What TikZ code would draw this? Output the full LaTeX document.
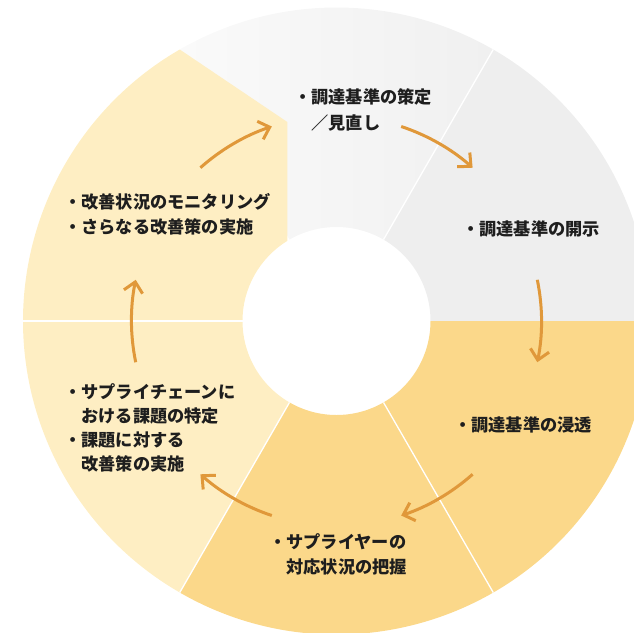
\documentclass[tikz,border=0pt]{standalone}
\usepackage{fontspec}
\setmainfont{Noto Sans CJK JP}
\usetikzlibrary{arrows.meta}
\definecolor{grayR}{HTML}{EEEEEE}
\definecolor{grayTL}{HTML}{FAFAFA}
\definecolor{grayTR}{HTML}{F0F0F0}
\definecolor{yel}{HTML}{FBD88A}
\definecolor{lyel}{HTML}{FEEEC3}
\definecolor{arr}{HTML}{E0983A}
\definecolor{txt}{HTML}{1E1E1E}
\tikzset{
  cyc/.style={draw=arr, line width=3pt, -{Straight Barb[length=10pt,width=19pt]}},
  sep/.style={draw=white, line width=1.3pt},
  lbl/.style={anchor=base west, inner sep=0pt, text=txt, font=\fontsize{17.2pt}{24pt}\selectfont\bfseries}
}
\begin{document}
\begin{tikzpicture}[x=1pt,y=1pt]
\useasboundingbox (0,0) rectangle (634,-632);
\clip (0,0) rectangle (634,-632);
\coordinate (c) at (336.5,-321);
% sectors
\fill[grayR] ([shift={(0:313.5pt)}]c) arc[start angle=0,end angle=60,radius=313.5pt]
  -- ([shift={(60:94pt)}]c) arc[start angle=60,end angle=0,radius=94pt] -- cycle;
\shade[left color=grayTL,right color=grayTR] ([shift={(60:313.5pt)}]c) arc[start angle=60,end angle=120,radius=313.5pt]
  -- ([shift={(120:94pt)}]c) arc[start angle=120,end angle=60,radius=94pt] -- cycle;
\fill[yel] ([shift={(-120:313.5pt)}]c) arc[start angle=-120,end angle=0,radius=313.5pt]
  -- ([shift={(0:94pt)}]c) arc[start angle=0,end angle=-120,radius=94pt] -- cycle;
\fill[lyel] ([shift={(180:313.5pt)}]c) arc[start angle=180,end angle=240,radius=313.5pt]
  -- ([shift={(240:94pt)}]c) arc[start angle=240,end angle=180,radius=94pt] -- cycle;
\coordinate (n1) at (287.3,-122);
\coordinate (n2) at ([shift={(121.55:94pt)}]c);
\fill[lyel] ([shift={(180:94pt)}]c) -- ([shift={(180:313.5pt)}]c)
  arc[start angle=180,end angle=120,radius=313.5pt] -- (n1) -- (n2)
  arc[start angle=121.55,end angle=180,radius=94pt] -- cycle;
% separators
\foreach \a in {60,-60,-120,180}
  \draw[sep] ([shift={(\a:94pt)}]c) -- ([shift={(\a:313.5pt)}]c);
% arrows
\foreach \b in {120,60,0,-60,-120,-180}
  \draw[cyc] ([shift={(\b+11.6:205pt)}]c) arc[start angle=\b+11.6,end angle=\b-11.6,radius=205pt];
% texts
\node[lbl] (t1a) at (294,-103.5) {・調達基準の策定};
\node[lbl] (t1b) at (311.2,-129.5) {／見直し};
\node[lbl] (t2) at (462,-235.5) {・調達基準の開示};
\node[lbl] (t3) at (454,-431.5) {・調達基準の浸透};
\node[lbl] (t4a) at (269,-548.5) {・サプライヤーの};
\node[lbl] (t4b) at (286.2,-573.5) {対応状況の把握};
\node[lbl] (t5a) at (64,-398.5) {・サプライチェーンに};
\node[lbl] (t5b) at (81.2,-422.5) {おける課題の特定};
\node[lbl] (t5c) at (64,-446.5) {・課題に対する};
\node[lbl] (t5d) at (81.2,-470.5) {改善策の実施};
\node[lbl] (t6a) at (64,-208.5) {・改善状況のモニタリング};
\node[lbl] (t6b) at (64,-233.5) {・さらなる改善策の実施};
\end{tikzpicture}
\end{document}
